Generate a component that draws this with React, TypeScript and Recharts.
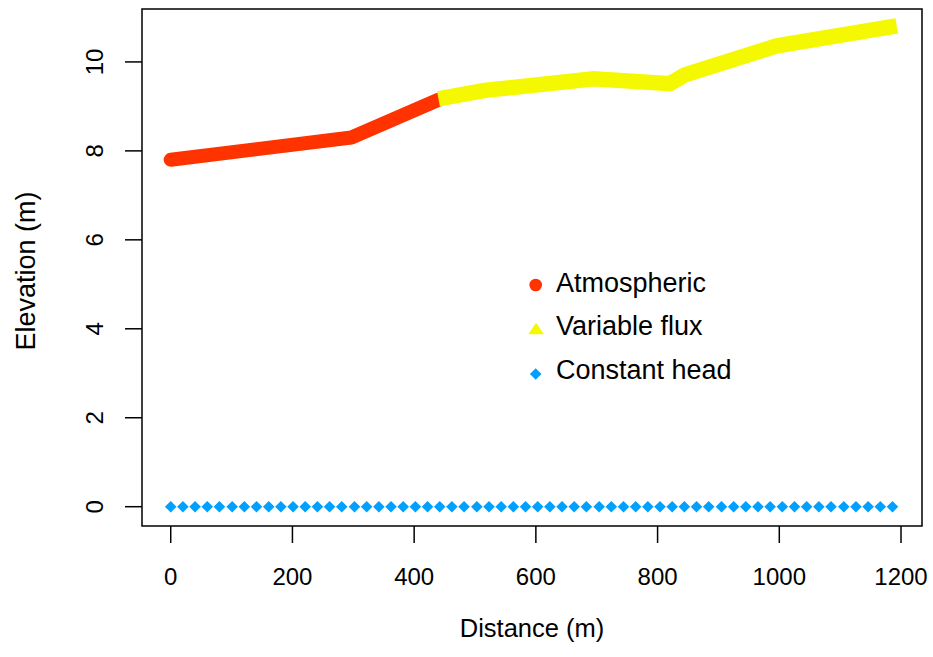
import { ComposedChart, Line, Scatter, XAxis, YAxis, ReferenceArea } from 'recharts'

// boundary condition nodes along the transect
const atmosphericDistance = [0, 297, 440]
const atmosphericElevation = [7.8, 8.3, 9.15]

const fluxDistance = [440, 516, 695, 820, 845, 996, 1193]
const fluxElevation = [9.17, 9.36, 9.62, 9.51, 9.71, 10.36, 10.81]

const constantHeadDistance = [
    0, 20, 40, 60, 80, 101, 121, 141, 161, 181,
    201, 221, 241, 261, 281, 302, 322, 342, 362, 382,
    402, 422, 442, 462, 482, 503, 523, 543, 563, 583,
    603, 623, 643, 663, 683, 704, 724, 744, 764, 784,
    804, 824, 844, 864, 884, 905, 925, 945, 965, 985,
    1005, 1025, 1045, 1065, 1085, 1106, 1126, 1146, 1166, 1186,
]
const constantHeadElevation = 0

const xTicks = [0, 200, 400, 600, 800, 1000, 1200]
const yTicks = [0, 2, 4, 6, 8, 10]

const legendItems = ['Atmospheric', 'Variable flux', 'Constant head']

const RED = '#ff3300'
const YELLOW = '#f4f800'
const BLUE = '#00a0ff'
const FONT = '"Liberation Sans", Arial, Helvetica, sans-serif'

const X_DOMAIN = [-47.2, 1234.5]
const Y_DOMAIN = [-0.434, 11.19]

const atmosphericData = atmosphericDistance.map((x, i) => ({ x, y: atmosphericElevation[i] }))
const fluxData = fluxDistance.map((x, i) => ({ x, y: fluxElevation[i] }))
const headData = constantHeadDistance.map((x) => ({ x, y: constantHeadElevation }))

const Diamond = (props: any) => {
    const { cx, cy } = props
    const r = 5.8
    return <polygon points={`${cx},${cy - r} ${cx + r},${cy} ${cx},${cy + r} ${cx - r},${cy}`} fill={BLUE} />
}

const XTick = (props: any) => {
    const { x, y, payload } = props
    return (
        <text x={x} y={y + 42} textAnchor="middle" fontSize={24} fontFamily={FONT} fill="#000">
            {payload.value}
        </text>
    )
}

const YTick = (props: any) => {
    const { x, y, payload } = props
    const bx = x - 22
    return (
        <text x={bx} y={y} transform={`rotate(-90, ${bx}, ${y})`} textAnchor="middle" fontSize={24} fontFamily={FONT} fill="#000">
            {payload.value}
        </text>
    )
}

const XTitle = (props: any) => {
    const { viewBox } = props
    return (
        <text x={viewBox.x + viewBox.width / 2} y={637} textAnchor="middle" fontSize={25.5} fontFamily={FONT} fill="#000">
            Distance (m)
        </text>
    )
}

const YTitle = () => (
    <text x={35} y={271} transform="rotate(-90, 35, 271)" textAnchor="middle" fontSize={27} fontFamily={FONT} fill="#000">
        Elevation (m)
    </text>
)

const LegendOverlay = () => {
    const mx = 535.7
    const tx = 556
    const base = [291.7, 335, 379]
    return (
        <svg width={933} height={657} style={{ position: 'absolute', left: 0, top: 0, pointerEvents: 'none' }}>
            <circle cx={mx} cy={285} r={6.3} fill={RED} />
            <polygon points={`${528.3},334.3 ${544},334.3 ${536.1},322.8`} fill={YELLOW} />
            <polygon points={`${mx},${368.2} ${mx + 5.8},${374} ${mx},${379.8} ${mx - 5.8},${374}`} fill={BLUE} />
            {legendItems.map((label, i) => (
                <text key={label} x={tx} y={base[i]} fontSize={27} fontFamily={FONT} fill="#000">
                    {label}
                </text>
            ))}
        </svg>
    )
}

const App = () => {
    return (
        <div style={{ position: 'absolute', left: 0, top: 0, width: 933, height: 657, background: '#fff' }}>
            <ComposedChart width={933} height={657} margin={{ top: 9, right: 11, bottom: 0, left: 0 }}>
                <XAxis
                    dataKey="x" type="number" domain={X_DOMAIN} allowDataOverflow
                    ticks={xTicks} interval={0} axisLine={false}
                    tickSize={17} tickMargin={0} tickLine={{ stroke: '#000', strokeWidth: 1.5 }}
                    tick={<XTick />} height={131}
                    label={<XTitle />}
                />
                <YAxis
                    dataKey="y" type="number" domain={Y_DOMAIN} allowDataOverflow
                    ticks={yTicks} interval={0} axisLine={false}
                    tickSize={17} tickMargin={0} tickLine={{ stroke: '#000', strokeWidth: 1.5 }}
                    tick={<YTick />} width={142}
                    label={<YTitle />}
                />
                <ReferenceArea
                    x1={X_DOMAIN[0]} x2={X_DOMAIN[1]} y1={Y_DOMAIN[0]} y2={Y_DOMAIN[1]}
                    fill="none" stroke="#000" strokeWidth={1.5} ifOverflow="visible"
                />
                <Line
                    data={atmosphericData} dataKey="y" type="linear" stroke={RED} strokeWidth={14}
                    strokeLinecap="round" strokeLinejoin="round" dot={false} activeDot={false}
                    isAnimationActive={false} legendType="none"
                />
                <Line
                    data={fluxData} dataKey="y" type="linear" stroke={YELLOW} strokeWidth={15.5}
                    strokeLinecap="butt" strokeLinejoin="miter" dot={false} activeDot={false}
                    isAnimationActive={false} legendType="none"
                />
                <Scatter data={headData} dataKey="y" shape={<Diamond />} isAnimationActive={false} />
            </ComposedChart>
            <LegendOverlay />
        </div>
    )
}

export default App
